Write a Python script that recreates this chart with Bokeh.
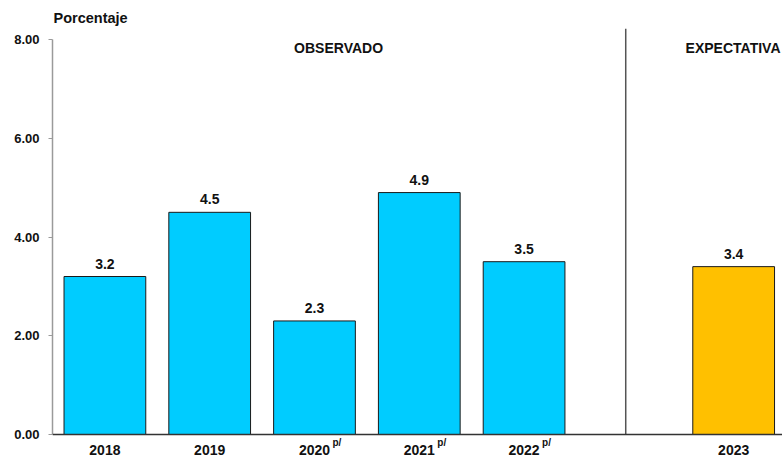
from bokeh.plotting import figure
from bokeh.models import ColumnDataSource, FixedTicker, NumeralTickFormatter, Range1d, Span
from bokeh.core.properties import value
from bokeh.embed import file_html
from bokeh.resources import INLINE

# ---- data ----
years_obs = ["2018", "2019", "2020", "2021", "2022"]
values_obs = [3.2, 4.5, 2.3, 4.9, 3.5]
prelim_obs = [False, False, True, True, True]
years_exp = ["2023"]
values_exp = [3.4]
y_ticks = [0, 2, 4, 6, 8]
y_label = "Porcentaje"
group_labels = ["OBSERVADO", "EXPECTATIVA"]
prelim_mark = "p/"

FONT = "Liberation Sans"
C_OBS = "#00CCFF"
C_EXP = "#FFC000"
TXT = "#111111"

x_obs = list(range(len(years_obs)))
gap_x = len(years_obs)
x_exp = [gap_x + 1 + i for i in range(len(years_exp))]

p = figure(width=782, height=458,
           x_range=Range1d(-0.5, 6.466), y_range=Range1d(-0.486, 8.79),
           output_backend="svg", toolbar_location=None,
           min_border_left=52, min_border_right=0, min_border_top=0, min_border_bottom=0)
p.outline_line_color = None
p.grid.visible = False
p.xaxis.visible = False
p.background_fill_color = "white"
p.border_fill_color = "white"

src_obs = ColumnDataSource(dict(x=x_obs, top=values_obs, lbl=[f"{v:.1f}" for v in values_obs],
                                yr=years_obs))
src_exp = ColumnDataSource(dict(x=x_exp, top=values_exp, lbl=[f"{v:.1f}" for v in values_exp],
                                yr=years_exp))

for src, col in ((src_obs, C_OBS), (src_exp, C_EXP)):
    p.vbar(x="x", top="top", bottom=0, width=0.78, source=src,
           fill_color=col, line_color="#1a1a1a", line_width=1)
    p.text(x="x", y="top", text="lbl", source=src, text_align="center",
           text_baseline="bottom", y_offset=-8, text_font=value(FONT),
           text_font_style="bold", text_font_size="14px", text_color=TXT)
    # category labels under the baseline
    p.text(x="x", y=0, text="yr", source=src, text_align="center",
           text_baseline="top", y_offset=10, text_font=value(FONT),
           text_font_style="bold", text_font_size="14px", text_color=TXT)

# preliminary marks (superscripts)
px = [x for x, pr in zip(x_obs, prelim_obs) if pr]
p.text(x=px, y=[0] * len(px), text=[prelim_mark] * len(px), x_offset=18, y_offset=2,
       text_align="left", text_baseline="top", text_font=value(FONT),
       text_font_style="bold", text_font_size="10px", text_color=TXT)

# baseline (x axis line)
p.add_layout(Span(location=0, dimension="width", line_color="#333333", line_width=1.5))

# divider between observed and expected
p.segment(x0=[gap_x - 0.03], y0=[0], x1=[gap_x - 0.03], y1=[8.22],
          line_color="#555555", line_width=1.5)

# group headers
p.text(x=[2.23], y=[7.82], text=[group_labels[0]],
       text_align="center", text_baseline="middle", text_font=value(FONT),
       text_font_style="bold", text_font_size="14px", text_color=TXT)
p.text(x=[6.466], y=[7.82], text=[group_labels[1]], x_offset=-2,
       text_align="right", text_baseline="middle", text_font=value(FONT),
       text_font_style="bold", text_font_size="14px", text_color=TXT)

# unit label
p.text(x=[-0.5], y=[8.43], text=[y_label], x_offset=1, text_align="left",
       text_baseline="middle", text_font=value(FONT), text_font_style="bold",
       text_font_size="14.5px", text_color=TXT)

# y axis
ya = p.yaxis[0]
ya.ticker = FixedTicker(ticks=y_ticks)
ya.formatter = NumeralTickFormatter(format="0.00")
ya.bounds = (0, 8)
ya.axis_line_color = "#9a9a9a"
ya.axis_line_width = 1.5
ya.major_tick_line_color = "#9a9a9a"
ya.major_tick_out = 4
ya.major_tick_in = 0
ya.minor_tick_line_color = None
ya.major_label_standoff = 9
ya.major_label_text_font = FONT
ya.major_label_text_font_style = "bold"
ya.major_label_text_font_size = "13px"
ya.major_label_text_color = TXT

open("out.html", "w").write(file_html(p, INLINE))
